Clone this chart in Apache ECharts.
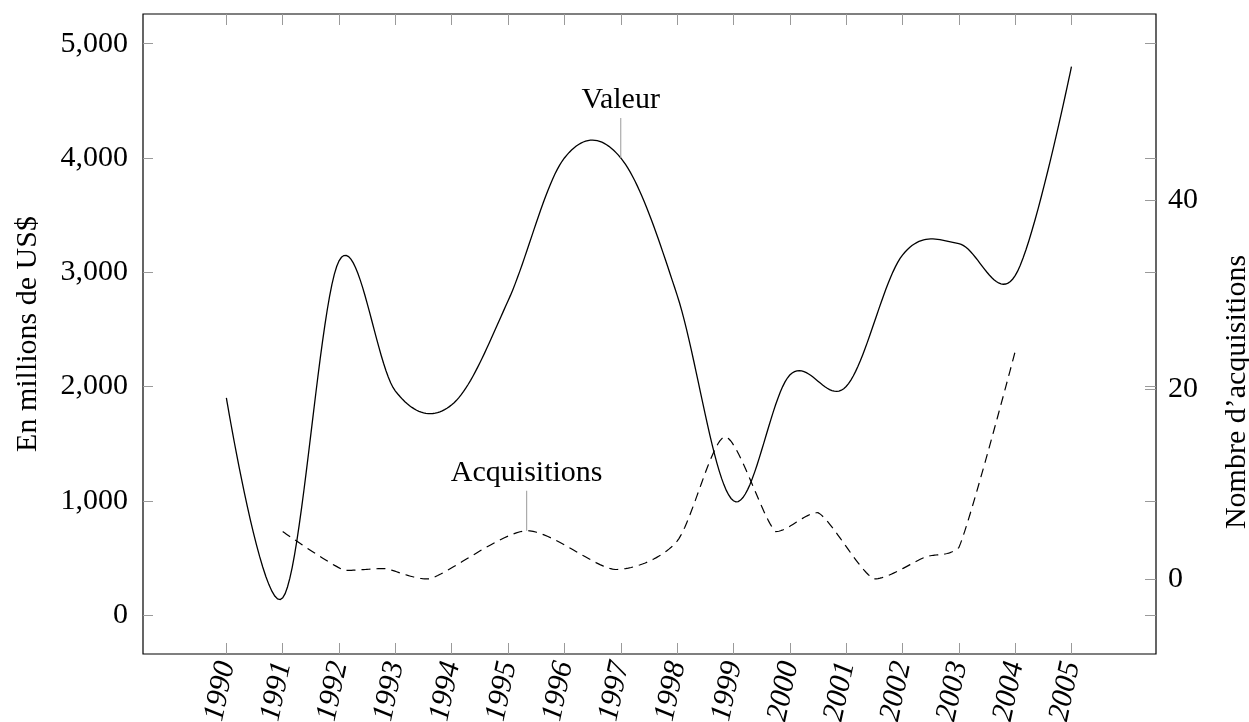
<!DOCTYPE html>
<html>
<head>
<meta charset="utf-8">
<title>Valeur et acquisitions</title>
<script src="https://cdn.jsdelivr.net/npm/echarts/dist/echarts.min.js"></script>
<style>
  html, body { margin: 0; padding: 0; background: #fff; overflow: hidden; }
  #chart { width: 1249px; height: 722px; }
</style>
</head>
<body>
<div id="chart"></div>
<script>
// années (axe x)
var years = [1990, 1991, 1992, 1993, 1994, 1995, 1996, 1997, 1998, 1999, 2000, 2001, 2002, 2003, 2004, 2005];
// valeur en millions de US$ (axe gauche)
var valeur = [1900, 150, 3100, 1960, 1840, 2750, 4000, 4000, 2800, 1000, 2100, 2000, 3150, 3250, 2970, 4800];
// nombre d'acquisitions (axe droit)
var acqYears = [1991, 1992.1, 1992.8, 1993.6, 1995.33, 1996.9, 1998.0, 1998.85, 1999.75, 2000.5, 2001.5, 2002.4, 2003.0, 2004.0];
var acquisitions = [5, 0.9, 1.1, 0, 5.1, 1, 4, 15, 5, 7, 0, 2.3, 3.3, 24];

var leftTicks = [0, 1000, 2000, 3000, 4000, 5000];
var rightTicks = [0, 20, 40];

// points des annotations
var valeurPin = [1997, 4000];
var acqPin = [1995.33, 5.1];

var serif = '"Liberation Serif", "DejaVu Serif", serif';
var tickGray = '#9a9a9a';

var valeurData = years.map(function (y, i) { return [y, valeur[i]]; });
var acqData = acqYears.map(function (y, i) { return [y, acquisitions[i]]; });

// courbe lissée (à la pgfplots), calculée en pixels à partir des points
function smoothLine(data, tension, clamp, dash, width) {
  function lim(v, a, b) {
    return clamp ? Math.min(Math.max(v, Math.min(a, b)), Math.max(a, b)) : v;
  }
  return function (params, api) {
    if (params.dataIndex !== 0) return;
    var pts = data.map(function (d) { return api.coord(d); });
    var out = [pts[0]];
    for (var i = 0; i < pts.length - 1; i++) {
      var p0 = pts[i - 1], p1 = pts[i], p2 = pts[i + 1], p3 = pts[i + 2];
      var c1 = p0 ? [p1[0] + (p2[0] - p0[0]) * tension, p1[1] + (p2[1] - p0[1]) * tension] : p1;
      var c2 = p3 ? [p2[0] - (p3[0] - p1[0]) * tension, p2[1] - (p3[1] - p1[1]) * tension] : p2;
      c1 = [lim(c1[0], p1[0], p2[0]), lim(c1[1], p1[1], p2[1])];
      c2 = [lim(c2[0], p1[0], p2[0]), lim(c2[1], p1[1], p2[1])];
      for (var s = 1; s <= 24; s++) {
        var t = s / 24, u = 1 - t;
        out.push([
          u * u * u * p1[0] + 3 * u * u * t * c1[0] + 3 * u * t * t * c2[0] + t * t * t * p2[0],
          u * u * u * p1[1] + 3 * u * u * t * c1[1] + 3 * u * t * t * c2[1] + t * t * t * p2[1]
        ]);
      }
    }
    return {
      type: 'polyline',
      shape: { points: out },
      style: { fill: null, stroke: '#000', lineWidth: width, lineDash: dash }
    };
  };
}

function pin(text, coord, yIndex) {
  return {
    type: 'scatter',
    yAxisIndex: yIndex,
    silent: true,
    data: [coord],
    symbol: 'rect',
    symbolSize: [1, 40],
    symbolOffset: [0, -20],
    itemStyle: { color: tickGray, opacity: 1 },
    label: {
      show: true,
      position: 'top',
      distance: 3,
      formatter: text,
      color: '#000',
      opacity: 1,
      fontSize: 30,
      fontFamily: serif
    }
  };
}

var xMin = 1988.52, xMax = 2006.5;
var yMin = -341, yMax = 5260;
var rMin = -7.92, rMax = 59.63;

var option = {
  animation: false,
  grid: {
    left: 143, right: 93, top: 14, bottom: 68,
    outerBoundsMode: 'none', containLabel: false,
    show: true, borderColor: '#000', borderWidth: 1.2, backgroundColor: 'transparent'
  },
  xAxis: [
    {
      type: 'value', min: xMin, max: xMax,
      axisLine: { show: false, onZero: false },
      splitLine: { show: false },
      axisTick: { inside: true, length: 11, customValues: years, lineStyle: { color: tickGray } },
      axisLabel: {
        customValues: years, rotate: 78, margin: 8,
        fontSize: 30, fontStyle: 'italic', fontFamily: serif, color: '#000',
        formatter: function (v) { return String(v); }
      }
    },
    {
      type: 'value', position: 'top', min: xMin, max: xMax,
      axisLine: { show: false, onZero: false },
      splitLine: { show: false },
      axisTick: { inside: true, length: 11, customValues: years, lineStyle: { color: tickGray } },
      axisLabel: { show: false }
    }
  ],
  yAxis: [
    {
      type: 'value', position: 'left', min: yMin, max: yMax,
      name: 'En millions de US$', nameLocation: 'middle', nameRotate: 90, nameGap: 100,
      nameTextStyle: { fontSize: 30, fontFamily: serif, color: '#000' },
      axisLine: { show: false, onZero: false },
      splitLine: { show: false },
      axisTick: { inside: true, length: 10, customValues: leftTicks, lineStyle: { color: tickGray } },
      axisLabel: {
        customValues: leftTicks, margin: 15,
        fontSize: 30, fontFamily: serif, color: '#000'
      }
    },
    {
      type: 'value', position: 'right', min: rMin, max: rMax,
      name: 'Nombre d\u2019acquisitions', nameLocation: 'middle', nameRotate: 90, nameGap: 66,
      nameTextStyle: { fontSize: 30, fontFamily: serif, color: '#000', padding: [0, 116, 0, 0] },
      axisLine: { show: false, onZero: false },
      splitLine: { show: false },
      axisTick: { inside: true, length: 11, customValues: rightTicks, lineStyle: { color: tickGray } },
      axisLabel: {
        customValues: rightTicks, margin: 12,
        fontSize: 30, fontFamily: serif, color: '#000'
      }
    },
    {
      type: 'value', position: 'right', min: yMin, max: yMax,
      axisLine: { show: false, onZero: false },
      splitLine: { show: false },
      axisTick: { inside: true, length: 11, customValues: leftTicks, lineStyle: { color: tickGray } },
      axisLabel: { show: false }
    }
  ],
  series: [
    {
      name: 'Valeur',
      type: 'custom',
      xAxisIndex: 0,
      yAxisIndex: 0,
      data: valeurData,
      encode: { x: 0, y: 1 },
      renderItem: smoothLine(valeurData, 0.17, false, null, 1.3)
    },
    {
      name: 'Acquisitions',
      type: 'custom',
      xAxisIndex: 0,
      yAxisIndex: 1,
      data: acqData,
      encode: { x: 0, y: 1 },
      renderItem: smoothLine(acqData, 0.13, true, [9, 6], 1.2)
    },
    pin('Valeur', valeurPin, 0),
    pin('Acquisitions', acqPin, 1)
  ]
};

var myChart = echarts.init(document.getElementById('chart'));
myChart.setOption(option);
</script>
</body>
</html>
